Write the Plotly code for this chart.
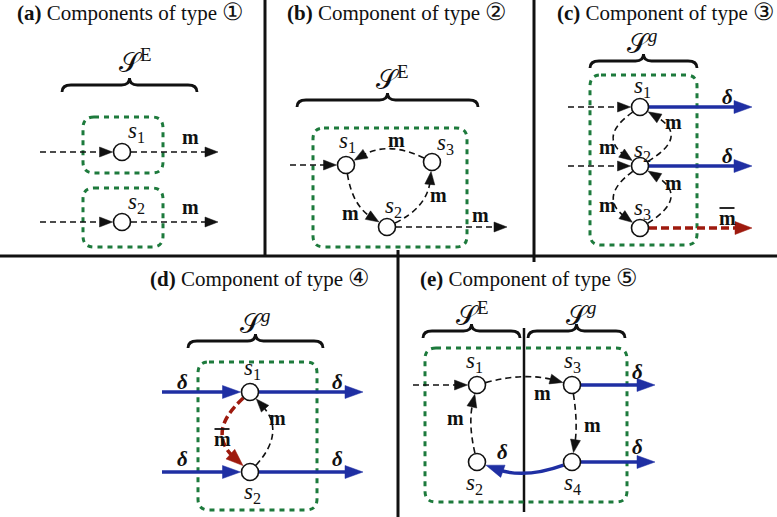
import math
import plotly.graph_objects as go

W, H = 777, 517
SERIF = "Liberation Serif, DejaVu Serif, serif"
BLACK = "#111111"
GREEN = "#1d7a3c"
BLUE = "#1f2fa3"
RED = "#9e1a0e"

# ---------------- data ----------------
# panel separators
sep_x0 = [265, 534, 0, 398, 524]
sep_y0 = [0, 0, 256, 250, 328]
sep_x1 = [265, 534, 777, 398, 524]
sep_y1 = [256, 262, 256, 517, 512]

# panel titles
title_tag = ["(a)", "(b)", "(c)", "(d)", "(e)"]
title_body = ["Components of type", "Component of type", "Component of type",
              "Component of type", "Component of type"]
title_num = ["\u2460", "\u2461", "\u2462", "\u2463", "\u2464"]
title_x = [16, 286, 556, 149, 419]
title_y = [12, 12, 12, 278, 278]

# set labels and braces
set_sup = ["E", "E", "<i>g</i>", "<i>g</i>", "E", "<i>g</i>"]
set_x = [135, 392, 642, 255, 472, 581]
set_y = [61, 78, 42, 322, 314, 314]
brace_x0 = [62, 297, 590, 188, 423, 528]
brace_x1 = [197, 478, 697, 323, 520, 625]
brace_yb = [92, 107, 68, 348, 338, 338]

# green component boxes
box_x0 = [83, 83, 313, 590, 198, 425]
box_y0 = [117, 188, 128, 75, 362, 348]
box_x1 = [163, 163, 467, 697, 317, 627]
box_y1 = [173, 247, 247, 245, 510, 502]

# nodes
node_id = ["a1", "a2", "b1", "b2", "b3", "c1", "c2", "c3", "d1", "d2",
           "e1", "e2", "e3", "e4"]
node_x = [122, 122, 346, 387, 432, 640, 640, 640, 250, 250, 477, 477, 572, 572]
node_y = [152, 222, 165, 227, 162, 107, 166, 228, 392, 472, 385, 462, 385, 462]
node_sub = ["1", "2", "1", "2", "3", "1", "2", "3", "1", "2", "1", "2", "3", "4"]
node_lx = [136, 136, 347, 393, 445, 642, 642, 642, 252, 252, 474, 474, 572, 572]
node_ly = [132, 203, 142, 207, 144, 87, 151, 209, 369, 493, 362, 484, 362, 484]
R = 8.5

# edges: source, target (node id or free point), kind, bend
edge_src = [(40, 152), "a1", (40, 222), "a2",
            (290, 165), "b3", "b1", "b2", "b2",
            (568, 107), (568, 166), "c1", "c2", "c3", "c1", "c2", "c2", "c3",
            (162, 392), (162, 472), "d1", "d2", "d1", "d2",
            (413, 385), "e1", "e3", "e2", "e3", "e4", "e4"]
edge_dst = ["a1", (218, 152), "a2", (218, 222),
            "b1", "b1", "b2", "b3", (507, 227),
            "c1", "c2", (752, 107), (752, 166), (752, 228), "c2", "c1", "c3", "c2",
            "d1", "d2", (363, 392), (363, 472), "d2", "d1",
            "e1", "e3", "e4", "e1", (655, 385), (655, 462), "e2"]
edge_kind = ["m", "m", "m", "m",
             "m", "m", "m", "m", "m",
             "m", "m", "d", "d", "mb", "m", "m", "m", "m",
             "d", "d", "d", "d", "mb", "m",
             "m", "m", "m", "m", "d", "d", "d"]
edge_bend = [0, 0, 0, 0,
             0, 23, 17, 22, 0,
             0, 0, 0, 0, 0, 42, 50, 42, 50,
             0, 0, 0, 0, 44, 36,
             0, -13, -6, -9, 0, 0, -17]

# edge labels
m_x = [190, 190, 396, 350, 438, 480, 607, 673, 607, 673, 277, 542, 592, 455]
m_y = [137, 207, 140, 213, 195, 215, 147, 122, 205, 183, 418, 393, 425, 418]
delta_x = [727, 727, 182, 182, 337, 337, 637, 637, 502]
delta_y = [97, 156, 382, 459, 382, 459, 372, 447, 452]
mbar_x = [727, 222]
mbar_y = [218, 439]

# ---------------- drawing ----------------
pos = {k: (x, y) for k, x, y in zip(node_id, node_x, node_y)}
shapes = []
annotations = []

style = {
    "m": dict(color=BLACK, width=1.6, dash="6px,4px", L=13, hw=5),
    "d": dict(color=BLUE, width=3.5, dash="solid", L=18, hw=6.5),
    "mb": dict(color=RED, width=3.5, dash="8px,4px", L=17, hw=6.5),
}


def unit(dx, dy):
    n = math.hypot(dx, dy) or 1.0
    return dx / n, dy / n


for k in range(len(sep_x0)):
    shapes.append(dict(type="line", xref="x", yref="y", x0=sep_x0[k], y0=sep_y0[k],
                       x1=sep_x1[k], y1=sep_y1[k],
                       line=dict(color=BLACK, width=3 if k < 4 else 2.5)))

for k in range(len(box_x0)):
    x0, y0, x1, y1 = box_x0[k], box_y0[k], box_x1[k], box_y1[k]
    r = 11
    p = (f"M {x0+r},{y0} L {x1-r},{y0} Q {x1},{y0} {x1},{y0+r} L {x1},{y1-r} "
         f"Q {x1},{y1} {x1-r},{y1} L {x0+r},{y1} Q {x0},{y1} {x0},{y1-r} "
         f"L {x0},{y0+r} Q {x0},{y0} {x0+r},{y0} Z")
    shapes.append(dict(type="path", xref="x", yref="y", path=p,
                       line=dict(color=GREEN, width=3, dash="5px,5px")))

for k in range(len(brace_x0)):
    x0, x1, yb = brace_x0[k], brace_x1[k], brace_yb[k]
    xm = (x0 + x1) / 2
    ym, yt = yb - 7, yb - 14
    p = (f"M {x0},{yb} Q {x0},{ym} {x0+9},{ym} L {xm-8},{ym} Q {xm},{ym} {xm},{yt} "
         f"Q {xm},{ym} {xm+8},{ym} L {x1-9},{ym} Q {x1},{ym} {x1},{yb}")
    shapes.append(dict(type="path", xref="x", yref="y", path=p,
                       line=dict(color=BLACK, width=2.8)))

for s, t, kind, bend in zip(edge_src, edge_dst, edge_kind, edge_bend):
    st = style[kind]
    P0 = pos[s] if isinstance(s, str) else s
    P2 = pos[t] if isinstance(t, str) else t
    dx, dy = P2[0] - P0[0], P2[1] - P0[1]
    nx, ny = unit(-dy, dx)
    mx, my = (P0[0] + P2[0]) / 2, (P0[1] + P2[1]) / 2
    C = (mx + bend * nx, my + bend * ny)
    if isinstance(s, str):
        ux, uy = unit(C[0] - P0[0], C[1] - P0[1])
        A = (P0[0] + ux * (R + 0.5), P0[1] + uy * (R + 0.5))
    else:
        A = P0
    ux, uy = unit(P2[0] - C[0], P2[1] - C[1])
    if isinstance(t, str):
        T = (P2[0] - ux * (R + 1), P2[1] - uy * (R + 1))
    else:
        T = P2
    E = (T[0] - ux * st["L"] * 0.7, T[1] - uy * st["L"] * 0.7)
    if bend == 0:
        p = f"M {A[0]:.2f},{A[1]:.2f} L {E[0]:.2f},{E[1]:.2f}"
    else:
        p = f"M {A[0]:.2f},{A[1]:.2f} Q {C[0]:.2f},{C[1]:.2f} {E[0]:.2f},{E[1]:.2f}"
    shapes.append(dict(type="path", xref="x", yref="y", path=p,
                       line=dict(color=st["color"], width=st["width"], dash=st["dash"])))
    B = (T[0] - ux * st["L"], T[1] - uy * st["L"])
    c1 = (B[0] - uy * st["hw"], B[1] + ux * st["hw"])
    c2 = (B[0] + uy * st["hw"], B[1] - ux * st["hw"])
    p = (f"M {T[0]:.2f},{T[1]:.2f} L {c1[0]:.2f},{c1[1]:.2f} "
         f"L {c2[0]:.2f},{c2[1]:.2f} Z")
    shapes.append(dict(type="path", xref="x", yref="y", path=p,
                       fillcolor=st["color"], line=dict(color=st["color"], width=0.5)))

for x, y in zip(node_x, node_y):
    shapes.append(dict(type="circle", xref="x", yref="y", x0=x - R, y0=y - R,
                       x1=x + R, y1=y + R, fillcolor="white",
                       line=dict(color=BLACK, width=1.6)))

# overbars of the m-bar labels
for x, y in zip(mbar_x, mbar_y):
    shapes.append(dict(type="line", xref="x", yref="y", x0=x - 7.5, x1=x + 7.5,
                       y0=y - 10, y1=y - 10, line=dict(color=BLACK, width=1.8)))


def text(x, y, s, size, xanchor="center", color=BLACK):
    annotations.append(dict(x=x, y=y, xref="x", yref="y", text=s, showarrow=False,
                            xanchor=xanchor, yanchor="middle", borderpad=0,
                            font=dict(family=SERIF, size=size, color=color)))


for tag, body, num, x, y in zip(title_tag, title_body, title_num, title_x, title_y):
    text(x, y, f"<b>{tag}</b> {body} <span style='font-size:24px'>{num}</span>",
         21, xanchor="left")

for sup, x, y in zip(set_sup, set_x, set_y):
    text(x, y, f"\U0001D4AE<sup>{sup}</sup>", 27)

for sub, x, y in zip(node_sub, node_lx, node_ly):
    text(x, y, f"<i>s</i><sub>{sub}</sub>", 23)

for x, y in zip(m_x, m_y):
    text(x, y, "<b>m</b>", 20)
for x, y in zip(delta_x, delta_y):
    text(x, y, "<b><i>\u03b4</i></b>", 21)
for x, y in zip(mbar_x, mbar_y):
    text(x, y, "<b>m</b>", 20)

fig = go.Figure()
fig.update_layout(
    width=W, height=H, margin=dict(l=0, r=0, t=0, b=0, pad=0),
    paper_bgcolor="white", plot_bgcolor="white", showlegend=False,
    xaxis=dict(range=[0, W], visible=False, fixedrange=True),
    yaxis=dict(range=[H, 0], visible=False, fixedrange=True),
    shapes=shapes, annotations=annotations,
)
fig.write_html("out.html", config={"displayModeBar": False},
               post_script="document.body.style.margin='0px';"
                           "document.body.style.padding='0px';"
                           "document.body.style.overflow='hidden';")
